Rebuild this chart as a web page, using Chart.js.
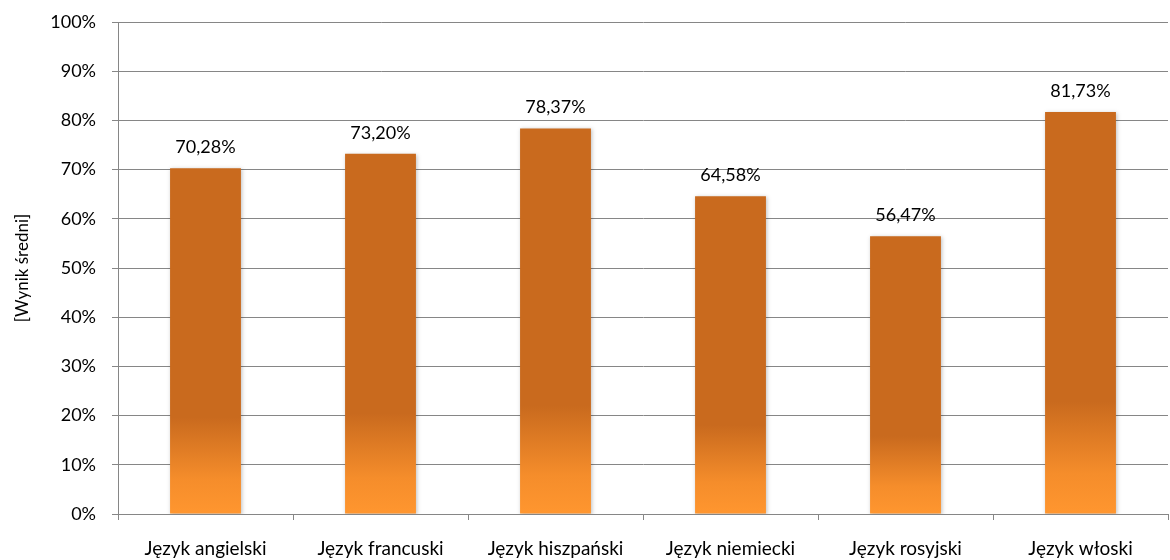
<!DOCTYPE html>
<html>
<head>
<meta charset="utf-8">
<script src="https://cdn.jsdelivr.net/npm/chart.js@4.4.1/dist/chart.umd.min.js"></script>
<style>
  html, body { margin: 0; padding: 0; background: #fff; }
  #wrap { width: 1170px; height: 560px; }
</style>
</head>
<body>
<div id="wrap"><canvas id="myChart" width="1170" height="560"></canvas></div>
<script>
const categories = ["Język angielski", "Język francuski", "Język hiszpański", "Język niemiecki", "Język rosyjski", "Język włoski"]
const scores = [70.28, 73.20, 78.37, 64.58, 56.47, 81.73]
const yTicks = [0, 10, 20, 30, 40, 50, 60, 70, 80, 90, 100]

const FONT = "Lato, 'Open Sans', sans-serif"

// bar fill: dark orange on top, lighter towards the bottom
const barFill = (ctx) => {
    const chart = ctx.chart
    const y = chart.scales.y
    if (!y || ctx.dataIndex === undefined) return "#C96A1E"
    const top = y.getPixelForValue(ctx.raw)
    const bottom = y.getPixelForValue(0)
    if (!isFinite(top) || !isFinite(bottom) || top === bottom) return "#C96A1E"
    const g = chart.ctx.createLinearGradient(0, bottom, 0, top)
    g.addColorStop(0, "#FF962F")
    g.addColorStop(0.1, "#F58D2B")
    g.addColorStop(0.28, "#C96A1E")
    g.addColorStop(1, "#C96A1E")
    return g
}

const barShadow = {
    id: "barShadow",
    beforeDatasetsDraw(chart) {
        const c = chart.ctx
        c.save()
        c.shadowColor = "rgba(0,0,0,0.25)"
        c.shadowBlur = 4
        c.shadowOffsetX = 1
        c.shadowOffsetY = 1
    },
    afterDatasetsDraw(chart) {
        chart.ctx.restore()
    }
}

const valueLabels = {
    id: "valueLabels",
    afterDatasetsDraw(chart) {
        const c = chart.ctx
        const meta = chart.getDatasetMeta(0)
        c.save()
        c.font = "18px " + FONT
        c.fillStyle = "#000"
        c.textAlign = "center"
        c.textBaseline = "middle"
        meta.data.forEach((bar, i) => {
            const txt = scores[i].toFixed(2).replace(".", ",") + "%"
            c.fillText(txt, bar.x, bar.y - 21)
        })
        c.restore()
    }
}

new Chart(document.getElementById("myChart").getContext("2d"), {
    type: "bar",
    data: {
        labels: categories,
        datasets: [
            {
                label: "Wynik średni",
                data: scores,
                backgroundColor: barFill,
                borderWidth: 0,
                categoryPercentage: 0.405,
                barPercentage: 1
            }
        ]
    },
    plugins: [barShadow, valueLabels],
    options: {
        responsive: false,
        animation: false,
        layout: { padding: { left: 10, right: 2, top: 22, bottom: 0 } },
        plugins: {
            legend: { display: false },
            tooltip: { enabled: false }
        },
        scales: {
            x: {
                afterFit: (axis) => { axis.height = 46 },
                grid: {
                    offset: true,
                    drawOnChartArea: false,
                    drawTicks: true,
                    tickLength: 6,
                    color: "#868686"
                },
                border: { color: "#868686", width: 1 },
                ticks: {
                    color: "#000",
                    font: { size: 19, family: FONT },
                    padding: 17,
                    maxRotation: 0
                }
            },
            y: {
                min: 0,
                max: 100,
                afterFit: (axis) => {
                    axis.width = 108
                    axis.paddingTop = 0
                    axis.paddingBottom = 0
                },
                afterBuildTicks: (axis) => { axis.ticks = yTicks.map(v => ({ value: v })) },
                grid: {
                    color: "#868686",
                    lineWidth: 1,
                    tickLength: 6
                },
                border: { color: "#868686", width: 1 },
                ticks: {
                    color: "#000",
                    font: { size: 18, family: FONT },
                    padding: 16,
                    callback: (v) => v + "%"
                },
                title: {
                    display: true,
                    text: "[Wynik średni]",
                    color: "#000",
                    font: { size: 17, family: FONT },
                    padding: { top: 2, bottom: 20 }
                }
            }
        }
    }
})
</script>
</body>
</html>
